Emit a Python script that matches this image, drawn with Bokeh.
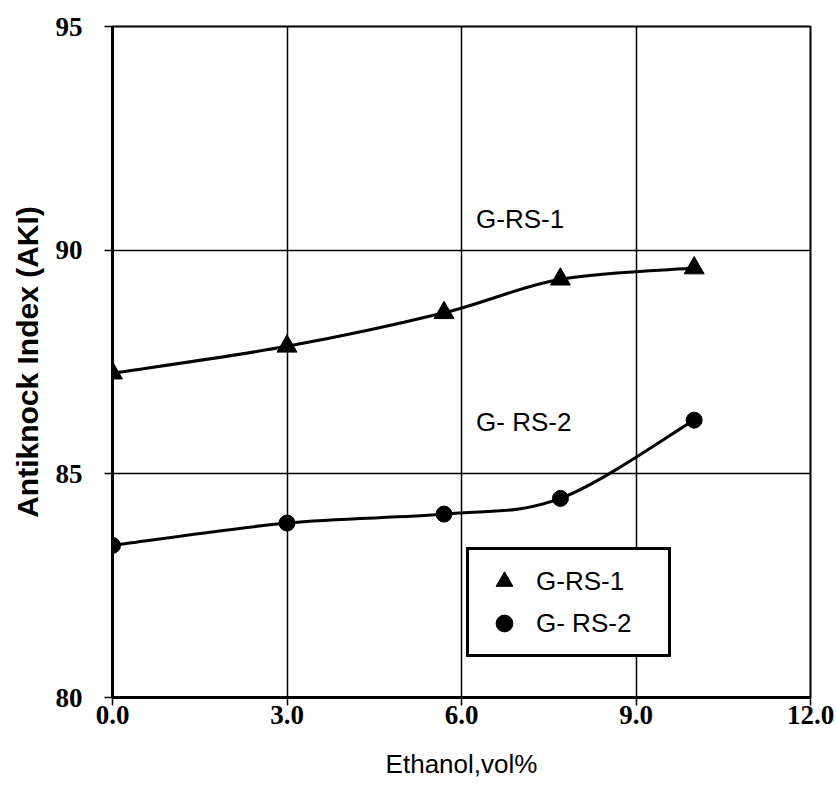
from bokeh.plotting import figure
from bokeh.models import FixedTicker, PrintfTickFormatter, Legend, LegendItem, Range1d
from bokeh.embed import file_html
from bokeh.resources import INLINE
from bokeh.core.properties import value

# ---- data ----
ethanol = [0.0, 3.0, 5.7, 7.7, 10.0]
aki_grs1 = [87.25, 87.85, 88.6, 89.35, 89.6]
aki_grs2 = [83.4, 83.9, 84.1, 84.45, 86.2]
x_ticks = [0, 3, 6, 9, 12]
y_ticks = [80, 85, 90, 95]
series_names = ["G-RS-1", "G- RS-2"]


def smooth_segments(xs, ys, k=1.0 / 6.0):
    """Bezier control points (Catmull-Rom style smoothing) for a smoothed line."""
    n = len(xs)
    seg = dict(x0=[], y0=[], x1=[], y1=[], cx0=[], cy0=[], cx1=[], cy1=[])
    for i in range(n - 1):
        a = i - 1 if i > 0 else i
        d = i + 2 if i + 2 < n else i + 1
        seg["x0"].append(xs[i]); seg["y0"].append(ys[i])
        seg["x1"].append(xs[i + 1]); seg["y1"].append(ys[i + 1])
        seg["cx0"].append(xs[i] + (xs[i + 1] - xs[a]) * k)
        seg["cy0"].append(ys[i] + (ys[i + 1] - ys[a]) * k)
        seg["cx1"].append(xs[i + 1] - (xs[d] - xs[i]) * k)
        seg["cy1"].append(ys[i + 1] - (ys[d] - ys[i]) * k)
    return seg


p = figure(width=834, height=788, output_backend="svg", toolbar_location=None,
           x_range=Range1d(0, 12), y_range=Range1d(80, 95),
           min_border_left=112, min_border_right=24, min_border_top=26, min_border_bottom=91)

p.background_fill_color = "white"
p.border_fill_color = "white"
p.outline_line_color = "black"
p.outline_line_width = 2

# grid
for g in (p.xgrid, p.ygrid):
    g.grid_line_color = "black"
    g.grid_line_width = 1.5
p.xgrid.ticker = FixedTicker(ticks=x_ticks)
p.ygrid.ticker = FixedTicker(ticks=y_ticks)

# axes
p.xaxis.ticker = FixedTicker(ticks=x_ticks)
p.yaxis.ticker = FixedTicker(ticks=y_ticks)
p.xaxis.formatter = PrintfTickFormatter(format="%.1f")
for ax in (p.xaxis[0], p.yaxis[0]):
    ax.axis_line_width = 3
    ax.axis_line_color = "black"
    ax.major_tick_line_color = "black"
    ax.major_tick_line_width = 1.5
    ax.major_tick_in = 0
    ax.major_tick_out = 8
    ax.minor_tick_line_color = None
    ax.major_label_text_font = "Liberation Serif"
    ax.major_label_text_font_style = "bold"
    ax.major_label_text_font_size = "27px"
    ax.major_label_text_color = "black"
    ax.axis_label_text_font = "Liberation Sans"
    ax.axis_label_text_color = "black"

p.xaxis.major_label_standoff = 0
p.yaxis.major_label_standoff = 22
p.xaxis.axis_label = "Ethanol,vol%"
p.xaxis.axis_label_text_font_style = "normal"
p.xaxis.axis_label_text_font_size = "26px"
p.xaxis.axis_label_standoff = 22
p.yaxis.axis_label = "Antiknock Index (AKI)"
p.yaxis.axis_label_text_font_style = "bold"
p.yaxis.axis_label_text_font_size = "30px"
p.yaxis.axis_label_standoff = 9

# smoothed curves
s1 = smooth_segments(ethanol, aki_grs1)
s2 = smooth_segments(ethanol, aki_grs2)
p.bezier(source=s1, x0="x0", y0="y0", x1="x1", y1="y1", cx0="cx0", cy0="cy0",
         cx1="cx1", cy1="cy1", line_color="black", line_width=3)
p.bezier(source=s2, x0="x0", y0="y0", x1="x1", y1="y1", cx0="cx0", cy0="cy0",
         cx1="cx1", cy1="cy1", line_color="black", line_width=3)

# markers
r1 = p.scatter(ethanol, aki_grs1, marker="triangle", size=20, fill_color="black", line_color="black")
r2 = p.scatter(ethanol, aki_grs2, marker="circle", size=16, fill_color="black", line_color="black")

# in-plot labels
p.text(x=[6.25], y=[90.7], text=[series_names[0]], text_align="left", text_baseline="middle",
       text_font=value("Liberation Sans"), text_font_size="26px", text_color="black")
p.text(x=[6.25], y=[86.15], text=[series_names[1]], text_align="left", text_baseline="middle",
       text_font=value("Liberation Sans"), text_font_size="26px", text_color="black")

legend = Legend(items=[LegendItem(label=series_names[0], renderers=[r1]),
                       LegendItem(label=series_names[1], renderers=[r2])],
                location=(354, 40))
legend.border_line_color = "black"
legend.border_line_alpha = 1.0
legend.border_line_width = 3
legend.background_fill_color = "white"
legend.background_fill_alpha = 1
legend.padding = 10
legend.spacing = 0
legend.glyph_width = 50
legend.glyph_height = 42
legend.label_height = 24
legend.label_standoff = 7
legend.label_width = 122
legend.margin = 0
legend.label_text_font = "Liberation Sans"
legend.label_text_font_size = "26px"
legend.label_text_color = "black"
p.add_layout(legend, "center")

open("out.html", "w").write(file_html(p, INLINE))
